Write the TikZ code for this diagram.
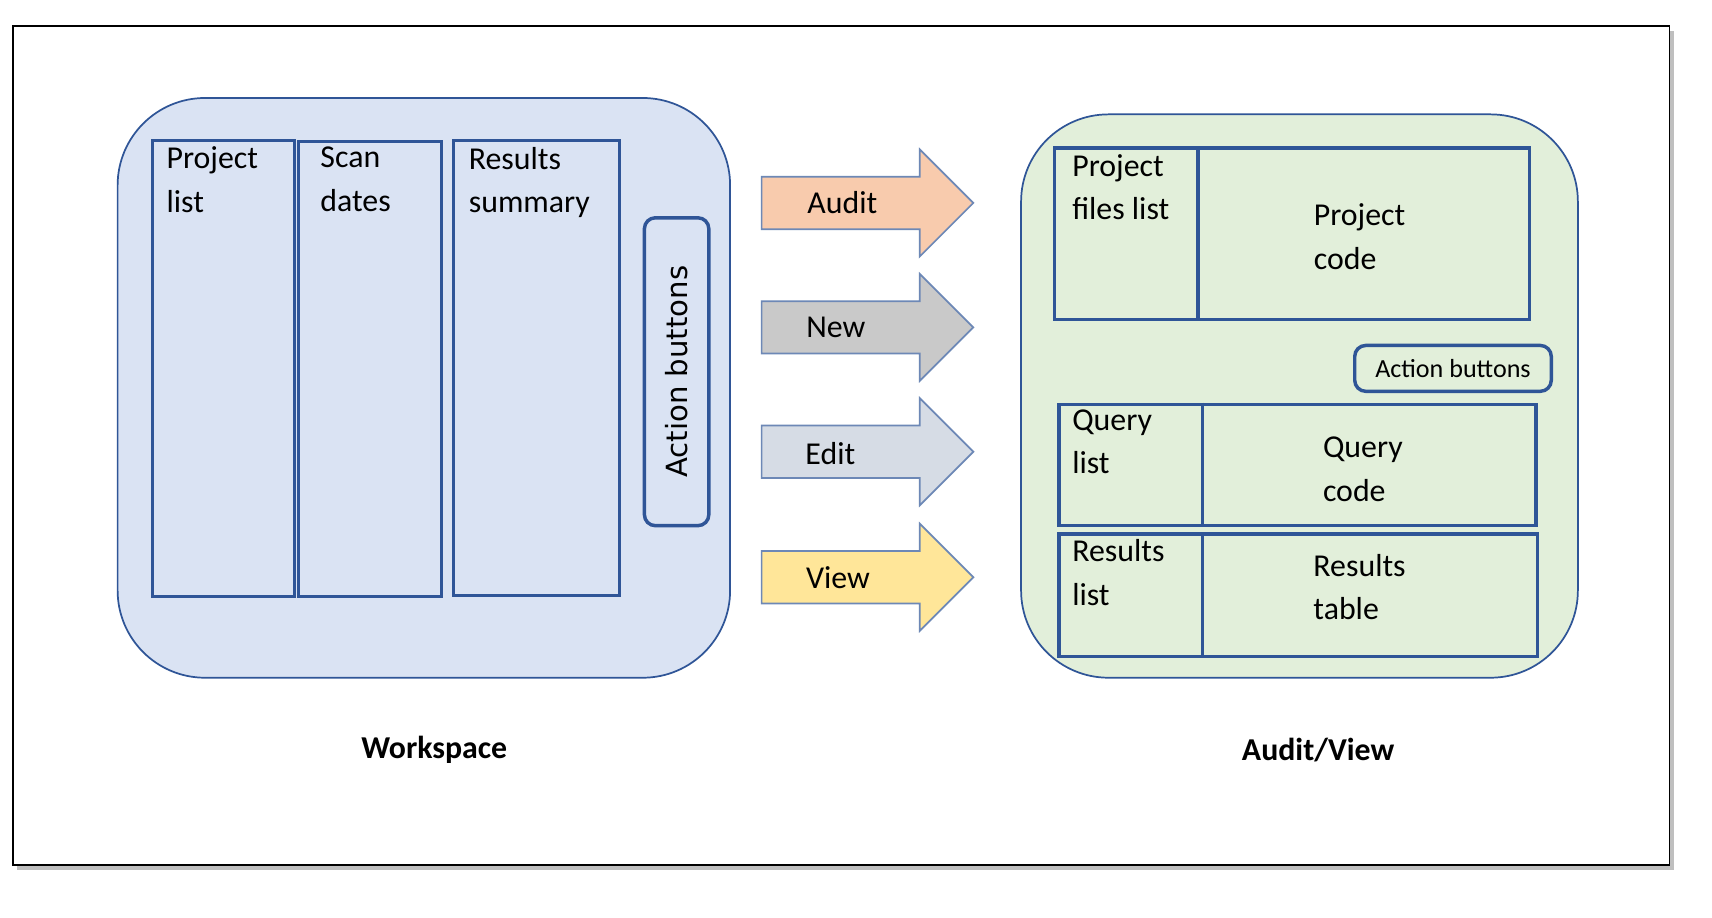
\documentclass[tikz,border=0pt]{standalone}
\usepackage{fontspec}
\setmainfont{Carlito}
\newfontfamily\vfont{DejaVu Sans}
\definecolor{wsfill}{HTML}{DAE3F3}
\definecolor{avfill}{HTML}{E2EFDA}
\definecolor{boxline}{HTML}{2F5597}
\definecolor{auditc}{HTML}{F8CBAD}
\definecolor{newc}{HTML}{C9C9C9}
\definecolor{editc}{HTML}{D6DCE5}
\definecolor{viewc}{HTML}{FFE699}
\tikzset{
  panel/.style={draw=boxline,line width=0.45pt,rounded corners=0.8cm,anchor=north west,inner sep=0pt},
  col/.style={draw=boxline,line width=0.9pt,anchor=north west,inner sep=0pt},
  btn/.style={draw=boxline,line width=0.9pt,rounded corners=0.1cm,anchor=north west,inner sep=0pt},
  txt/.style={font=\fontsize{8.3}{11.3}\selectfont,align=left,inner sep=0pt},
  act/.style={draw=boxline!70,line width=0.45pt},
  viewcap/.style={font=\fontsize{8.3}{10}\selectfont\bfseries}
}
\begin{document}
\begin{tikzpicture}[x=0.01cm,y=-0.01cm]
  \useasboundingbox (0,0) rectangle (1569,841);
  % frame
  \fill[black!25] (16,28) rectangle (1534,797);
  \draw[fill=white,line width=0.5pt] (12,24) rectangle (1530,793);

  % Workspace
  \node[panel,fill=wsfill,minimum width=5.61cm,minimum height=5.31cm] (ws) at (107,89) {};
  \node[col,minimum width=1.30cm,minimum height=4.18cm] (plist) at (138,127) {};
  \node[col,minimum width=1.31cm,minimum height=4.17cm] (sdates) at (272,128) {};
  \node[col,minimum width=1.52cm,minimum height=4.17cm] (rsum) at (414,127) {};
  \node[txt,anchor=north west] at ([xshift=0.14cm,yshift=-0.07cm]plist.north west) {Project\\list};
  \node[txt,anchor=north west] at ([xshift=0.21cm,yshift=-0.06cm]sdates.north west) {Scan\\dates};
  \node[txt,anchor=north west] at ([xshift=0.15cm,yshift=-0.07cm]rsum.north west) {Results\\summary};
  \node[btn,minimum width=0.59cm,minimum height=2.82cm] (wsbtn) at (589,198) {};
  \node[font=\vfont\fontsize{7.6}{9}\selectfont,rotate=90] at (wsbtn.center) {Action buttons};
  \node[viewcap] (wscap) at (398,687) {Workspace};

  % Aktionspfeile
  \foreach \n/\y/\c in {audit/186/auditc,new/300/newc,edit/414/editc,view/529/viewc}{
    \coordinate (\n) at (698,\y);
    \draw[act,fill=\c] (\n) ++(0,-24) -- ++(145,0) -- ++(0,-25) -- ++(49,49)
      -- ++(-49,49) -- ++(0,-25) -- ++(-145,0) -- cycle;
  }
  \node[txt] at (772,186) {Audit};
  \node[txt] at (766,300) {New};
  \node[txt] at (761,416) {Edit};
  \node[txt] at (768,529) {View};

  % Audit/View
  \node[panel,fill=avfill,minimum width=5.10cm,minimum height=5.16cm] (av) at (935,104) {};
  \node[col,minimum width=4.35cm,minimum height=1.57cm] (pcode) at (965,134) {};
  \draw[boxline,line width=0.9pt] (1098,134) -- (1098,291);
  \node[txt,anchor=north west] at ([xshift=0.17cm,yshift=-0.07cm]pcode.north west) {Project\\files list};
  \node[txt] at (1246,217) {Project\\code};
  \node[btn,minimum width=1.80cm,minimum height=0.42cm] (avbtn) at (1240,315) {};
  \node[font=\fontsize{6.8}{8}\selectfont] at (avbtn.center) {Action buttons};
  \node[col,minimum width=4.37cm,minimum height=1.11cm] (qcode) at (969,369) {};
  \draw[boxline,line width=0.9pt] (1102,369) -- (1102,480);
  \node[txt,anchor=north west] at ([xshift=0.13cm,yshift=-0.06cm]qcode.north west) {Query\\list};
  \node[txt] at (1249,430) {Query\\code};
  \node[col,minimum width=4.38cm,minimum height=1.12cm] (rtable) at (969,488) {};
  \draw[boxline,line width=0.9pt] (1102,488) -- (1102,600);
  \node[txt,anchor=north west] at ([xshift=0.13cm,yshift=-0.06cm]rtable.north west) {Results\\list};
  \node[txt] at (1246,538) {Results\\table};
  \node[viewcap] (avcap) at (1208,687) {Audit/View};
\end{tikzpicture}
\end{document}
